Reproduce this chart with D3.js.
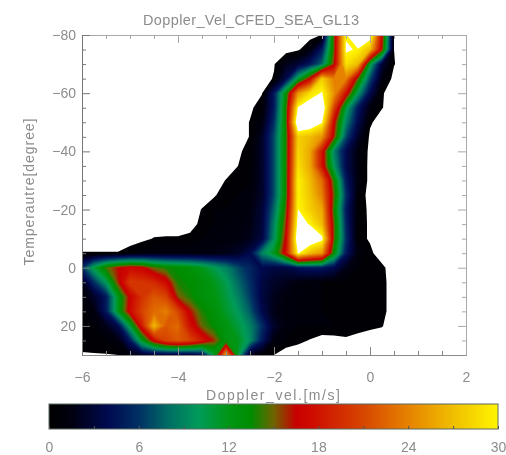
<!DOCTYPE html>
<html>
<head>
<meta charset="utf-8">
<script src="https://cdn.jsdelivr.net/npm/d3@7"></script>
<style>
  body { margin: 0; background: #fff; }
  svg { filter: blur(0.45px); }
  text { font-family: "Liberation Sans", sans-serif; fill: #8c8c8c; }
  .tick text { font-size: 14px; fill: #8c8c8c; }
</style>
</head>
<body>
<svg id="chart" width="506" height="455"></svg>
<script>
// grid
var velocity = [-6,-5.75,-5.5,-5.25,-5,-4.75,-4.5,-4.25,-4,-3.75,-3.5,-3.25,-3,-2.75,-2.5,-2.25,-2,-1.75,-1.5,-1.25,-1,-0.75,-0.5,-0.25,0,0.25,0.5,0.75];
var temperature = [-80,-75,-70,-65,-60,-55,-50,-45,-40,-35,-30,-25,-20,-15,-10,-5,0,5,10,15,20,25,30];
var frequency = [
  [0,0,0,0,0,0,0,0, 0,0,0,0,0,0,0,0, 0,0,0,0,.55,15,30,34,32,17,.5,0],
  [0,0,0,0,0,0,0,0, 0,0,0,0,0,0,0,0, 0,0,.3,1.5,5,15,30.6,30,27,16,.5,0],
  [0,0,0,0,0,0,0,0, 0,0,0,0,0,0,0,0, .4,2,3,5,8,16,29,27,11,3,.55,0],
  [0,0,0,0,0,0,0,0, 0,0,0,0,0,0,0,0, .6,4,11,17,28,24,24,15,7,1.5,.2,0],
  [0,0,0,0,0,0,0,0, 0,0,0,0,0,0,0,.45, 5,13,25,29,30.5,25,18,10,4,.6,0,0],
  [0,0,0,0,0,0,0,0, 0,0,0,0,0,0,.3,1, 5,14,30.5,32,33,21,11,5,1.5,.55,0,0],
  [0,0,0,0,0,0,0,0, 0,0,0,0,0,0,.55,1.5, 6,14,34,33,30.5,17,9,4,.65,0,0,0],
  [0,0,0,0,0,0,0,0, 0,0,0,0,0,0,.55,2.5, 7,14,28,27,25,16,7,2.5,.3,0,0,0],
  [0,0,0,0,0,0,0,0, 0,0,0,0,0,.35,.8,2.5, 7,14,28.5,26,18,9,4,1.5,.25,0,0,0],
  [0,0,0,0,0,0,0,0, 0,0,0,0,0,.5,1,2.5, 7,14,29,26,18,10,4,1.5,.2,0,0,0],
  [0,0,0,0,0,0,0,0, 0,0,0,0,.55,.8,1,2.5, 7,14,30,27,23,14,5,1.5,.2,0,0,0],
  [0,0,0,0,0,0,0,0, 0,0,0,.4,.9,1,1.3,2.5, 7,14,30,27.5,24,15,6,1,.2,0,0,0],
  [0,0,0,0,0,0,0,0, 0,0,.55,1,1,1.2,1.5,3, 8,15,30.3,28,26,14,5,1,.3,0,0,0],
  [0,0,0,0,0,0,0,0, 0,.2,.7,1,1.2,1.3,1.7,3.2, 9,16,31.5,30,27,15,5.5,.8,.4,0,0,0],
  [0,0,0,0,0,.3,.55,.6, .6,.7,1,1.2,1.3,1.5,2,3.5, 9.5,17,33,33,31,15,6,.8,.4,0,0,0],
  [.55,.55,.55,.55,1,1.2,1.5,1.5, 1.5,1.5,1.5,1.7,2,2.5,4,9, 12,18,30.5,27,25,13,5,1.5,.7,0,0,0],
  [6,11,14.5,16.5,17.5,17,15,14, 13.5,13,12,10.5,9,7,5.5,4, 3.5,3.5,4.5,5,5,4,2,1,.8,.7,0,0],
  [2,6,10,16,20.5,20,19.5,17.5, 14,13.5,13,12,10.5,8,6,3.5, 2.5,2,1.5,1.2,1,.9,.9,.9,.8,.8,0,0],
  [1,2.5,5,12,17,20,22,21, 15.5,14,13,12.5,11,9,6.5,3.5, 2,1.5,1,1,1,.9,.9,.9,.8,.8,0,0],
  [.9,1.5,5,12,17.5,21,23,24, 21,16.5,14,13,11.5,10,7.5,4, 1.8,1.3,1,1,1,.9,.9,.9,.8,.8,0,0],
  [.8,1,2,4,11,18.5,27,22, 23,18,15,13.5,12.5,11,9,6, 2.5,1.5,1,1,1,1,1,.9,.7,.55,0,0],
  [.7,.8,1,1.5,5,12,17.5,21, 22,21,18.5,16,12.5,12,9.5,5, 1.5,1,.7,.45,.2,.25,.34,.1,0,0,0,0],
  [.45,.45,.45,.5,1.5,2.5,3,3, 3,3,4,11,26,11,2,1, .5,0,0,0,0,0,0,0,0,0,0,0]
];

var xTicks = [-6,-4,-2,0,2];
var xMinor = [-5.5,-5,-4.5,-3.5,-3,-2.5,-1.5,-1,-0.5,0.5,1,1.5];
var yTicks = [-80,-60,-40,-20,0,20];
var yMinor = [-75,-70,-65,-55,-50,-45,-35,-30,-25,-15,-10,-5,5,10,15,25];
var barLabels = [0,6,12,18,24,30];
var barMarks = [3,9,15,21,27];

var colorStops = [0,1.5,4,6,8,10,12,13.5,15,16.5,17.5,21,24,27,30];
var colorValues = ['#000000','#000010','#000a50','#003064','#006e64','#009b5a','#009614','#008c00','#6e6400','#c80000','#cd0a00','#d74600','#e68200','#f0be00','#fff500'];

var margin = {left: 82, right: 466, top: 35, bottom: 355};
var svg = d3.select("#chart");

var x = d3.scaleLinear().domain([-6,2]).range([margin.left, margin.right]);
var y = d3.scaleLinear().domain([-80,30]).range([margin.top, margin.bottom]);
var color = d3.scaleLinear().domain(colorStops).range(colorValues).clamp(true);

// contour fill, each band sits on top of the lower ones
var values = [];
frequency.forEach(function(row){ row.forEach(function(v){ values.push(v); }); });
var levels = [0.5].concat(d3.range(1, 30.01, 0.25)).concat([30.25]);
var contours = d3.contours()
  .size([velocity.length, temperature.length])
  .thresholds(levels)(values);

// contour coordinates have grid point i at i+0.5
var dx = velocity[1]-velocity[0];
var dy = temperature[1]-temperature[0];
var path = d3.geoPath(d3.geoTransform({
  point: function(c, r) {
    this.stream.point(x(velocity[0]+(c-0.5)*dx), y(temperature[0]+(r-0.5)*dy));
  }
}));

svg.append("clipPath").attr("id", "box").append("rect")
  .attr("x", margin.left).attr("y", margin.top)
  .attr("width", margin.right-margin.left).attr("height", margin.bottom-margin.top);

svg.append("g").attr("clip-path", "url(#box)")
  .selectAll("path").data(contours).enter().append("path")
    .attr("d", path)
    .attr("fill", function(d){ return d.value > 30 ? "#ffffff" : color(d.value); });

// inward ticks on all four sides
function styleAxis(g, col) {
  g.select(".domain").attr("stroke", col);
  g.selectAll("line").attr("stroke", col);
}
function addAxis(axis, dx, dy, col) {
  var g = svg.append("g").attr("transform", "translate("+dx+","+dy+")").call(axis);
  styleAxis(g, col);
  return g;
}
var axisCol = "#8a8a8a";
addAxis(d3.axisBottom(x).tickValues(xMinor).tickSize(-4).tickFormat(""), 0, margin.bottom, axisCol);
addAxis(d3.axisTop(x).tickValues(xMinor).tickSize(-4).tickFormat(""), 0, margin.top, "#aaa");
addAxis(d3.axisLeft(y).tickValues(yMinor).tickSize(-4).tickFormat(""), margin.left, 0, "#777");
addAxis(d3.axisRight(y).tickValues(yMinor).tickSize(-4).tickFormat(""), margin.right, 0, "#aaa");
addAxis(d3.axisBottom(x).tickValues(xTicks).tickSizeInner(-8).tickSizeOuter(0).tickPadding(17).tickFormat(d3.format("d")), 0, margin.bottom, axisCol);
addAxis(d3.axisTop(x).tickValues(xTicks).tickSizeInner(-8).tickSizeOuter(0).tickFormat(""), 0, margin.top, "#aaa");
addAxis(d3.axisLeft(y).tickValues(yTicks).tickSizeInner(-8).tickSizeOuter(0).tickPadding(6).tickFormat(d3.format("d")), margin.left, 0, "#777");
addAxis(d3.axisRight(y).tickValues(yTicks).tickSizeInner(-8).tickSizeOuter(0).tickFormat(""), margin.right, 0, "#aaa");

svg.append("text").attr("x", 251).attr("y", 25).attr("text-anchor", "middle")
  .attr("font-size", 14.5).attr("textLength", 216).attr("lengthAdjust", "spacing")
  .text("Doppler_Vel_CFED_SEA_GL13");
svg.append("text").attr("x", 273).attr("y", 400).attr("text-anchor", "middle")
  .attr("font-size", 14).attr("textLength", 134).attr("lengthAdjust", "spacing")
  .text("Doppler_vel.[m/s]");
svg.append("text").attr("transform", "translate(34,192) rotate(-90)").attr("text-anchor", "middle")
  .attr("font-size", 14).attr("textLength", 147).attr("lengthAdjust", "spacing")
  .text("Temperautre[degree]");

// colour bar
var barX = d3.scaleLinear().domain([0,30]).range([49,498]);
var barTop = 404, barBottom = 429;
var grad = svg.append("defs").append("linearGradient").attr("id", "ramp");
colorStops.forEach(function(s, i){
  grad.append("stop").attr("offset", (s/30*100)+"%").attr("stop-color", colorValues[i]);
});
svg.append("rect").attr("x", barX(0)).attr("y", barTop)
  .attr("width", barX(30)-barX(0)).attr("height", barBottom-barTop)
  .attr("fill", "url(#ramp)").attr("stroke", "#5a6a60");
var barMinor = svg.append("g").attr("transform", "translate(0,"+barBottom+")")
  .call(d3.axisBottom(barX).tickValues(barMarks).tickSize(-3).tickFormat(""));
barMinor.select(".domain").remove();
barMinor.selectAll("line").attr("stroke", "#555");
var barAxis = svg.append("g").attr("transform", "translate(0,"+barBottom+")")
  .call(d3.axisBottom(barX).tickValues(barLabels).tickSizeInner(-3).tickSizeOuter(0).tickPadding(13).tickFormat(d3.format("d")));
barAxis.select(".domain").remove();
barAxis.selectAll("line").attr("stroke", "#555");
</script>
</body>
</html>
